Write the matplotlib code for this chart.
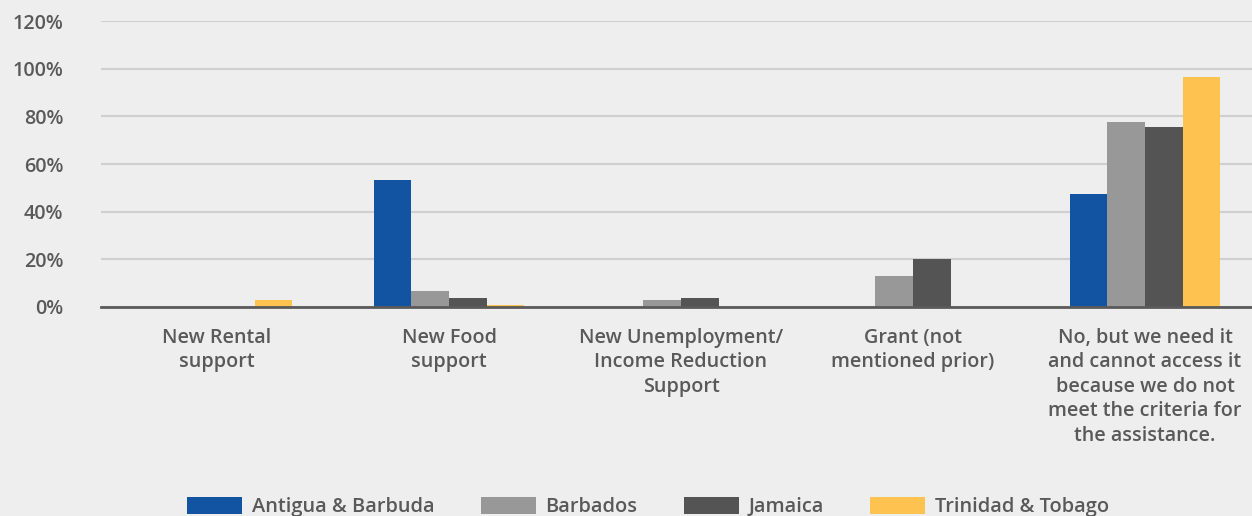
# Survey chart: new assistance received, by country
import numpy as np
import matplotlib.pyplot as plt

# Data
categories = ["New Rental\nsupport",
              "New Food\nsupport",
              "New Unemployment/\nIncome Reduction\nSupport",
              "Grant (not\nmentioned prior)",
              "No, but we need it\nand cannot access it\nbecause we do not\nmeet the criteria for\nthe assistance."]
countries = ["Antigua & Barbuda", "Barbados", "Jamaica", "Trinidad & Tobago"]
antigua = [0, 53.3, 0, 0, 47.3]
barbados = [0, 6.8, 2.8, 13.0, 77.6]
jamaica = [0, 3.8, 3.8, 20.0, 75.6]
trinidad = [2.8, 0.8, 0, 0, 96.6]
yticks = [0, 20, 40, 60, 80, 100, 120]

colors = ["#1254A2", "#999898", "#545454", "#FEC250"]
bg = "#EEEEEE"
txt = "#595959"

plt.rcParams['font.family'] = ['Open Sans', 'DejaVu Sans']

fig = plt.figure(figsize=(12.52, 5.16), dpi=100, facecolor=bg)
ax = fig.add_axes([101 / 1252, 209 / 516, 1160 / 1252, 286 / 516])
ax.set_facecolor(bg)

x = np.arange(len(categories))
w = 0.162
series = [antigua, barbados, jamaica, trinidad]
for i, vals in enumerate(series):
    ax.bar(x + (i - 1.5) * w, vals, w, color=colors[i], label=countries[i], zorder=3)

ax.set_xlim(-0.5, 4.5)
ax.set_ylim(0, 120)
ax.set_yticks(yticks)
ax.set_yticklabels([f"{v}%" for v in yticks])
ax.set_xticks(x)
ax.set_xticklabels(categories, linespacing=1.3)
ax.grid(axis="y", color="#CFCFD1", linewidth=1.5, zorder=0)
ax.set_axisbelow(True)

for s in ["left", "right", "top"]:
    ax.spines[s].set_visible(False)
ax.spines["bottom"].set_color("#5A5A5A")
ax.spines["bottom"].set_linewidth(2)
ax.spines["bottom"].set_zorder(4)

ax.tick_params(axis="y", length=0, pad=27, labelsize=14.2, labelcolor=txt)
ax.tick_params(axis="x", length=0, pad=15, labelsize=14.2, labelcolor=txt)
for t in ax.get_xticklabels() + ax.get_yticklabels():
    t.set_fontweight("semibold")

leg = fig.legend(loc="center", bbox_to_anchor=(648 / 1252, 1 - 507 / 516), ncol=4,
                 frameon=False, handlelength=2.75, handleheight=0.95, columnspacing=2.3,
                 handletextpad=0.5, prop={"size": 14.4, "weight": "semibold"})
for t in leg.get_texts():
    t.set_color(txt)

fig.savefig("out.png", dpi=100, facecolor=bg)
